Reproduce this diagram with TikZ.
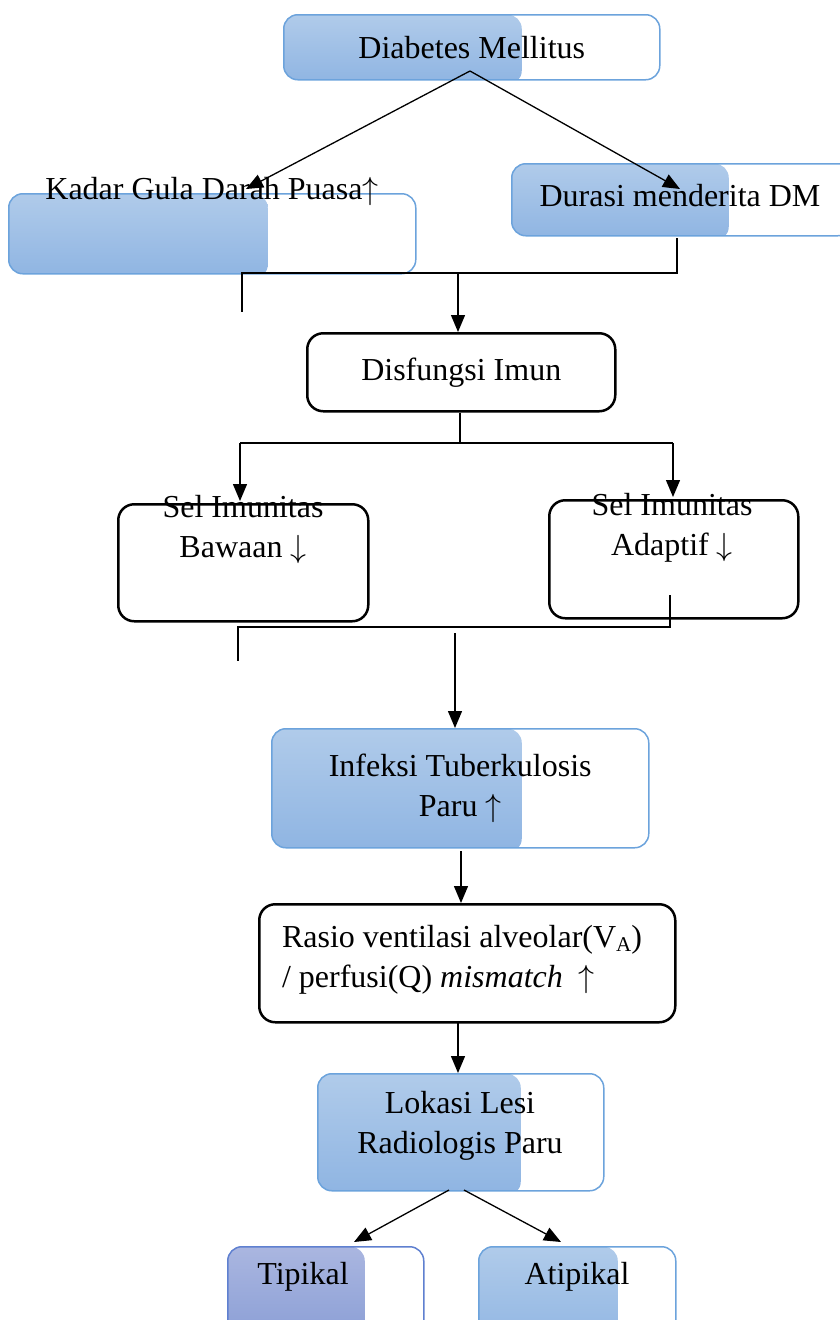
\documentclass[tikz,border=0pt]{standalone}
\usepackage{fix-cm}
\usepackage{fontspec}
\setmainfont{Liberation Serif}
\usetikzlibrary{arrows.meta}
\definecolor{gtop}{RGB}{176,203,234}
\definecolor{gbot}{RGB}{142,180,226}
\definecolor{gedge}{RGB}{108,163,220}
\definecolor{ptop}{RGB}{170,182,224}
\definecolor{pbot}{RGB}{134,155,212}
\definecolor{pedge}{RGB}{95,128,208}
\newcommand{\up}{\ensuremath{\uparrow}}
\newcommand{\dn}{\ensuremath{\downarrow}}
\begin{document}
\begin{tikzpicture}[x=1pt,y=-1pt,
  txt/.style={font=\fontsize{32}{40}\selectfont, inner sep=0pt, align=center},
  bbox/.style={draw=gedge, line width=1.5pt, rounded corners=14pt, inner sep=0pt, anchor=north west,
    font=\fontsize{32}{40}\selectfont, align=center,
    path picture={\shade[top color=gtop,bottom color=gbot] ([yshift=-5pt]path picture bounding box.south west) rectangle ([xshift=#1]path picture bounding box.north west);}},
  pbox/.style={draw=pedge, line width=1.5pt, rounded corners=14pt, inner sep=0pt, anchor=north west,
    path picture={\shade[top color=ptop,bottom color=pbot] ([yshift=-5pt]path picture bounding box.south west) rectangle ([xshift=#1]path picture bounding box.north west);}},
  kbox/.style={draw=black, line width=2.5pt, rounded corners=16pt, inner sep=0pt, anchor=north west, fill=white,
    font=\fontsize{32}{40}\selectfont, align=center},
  arr/.style={line width=1.3pt, -{Triangle[length=17pt,width=14pt]}},
  ln/.style={line width=1.3pt}]
\useasboundingbox (0,0) rectangle (839,1320);

% boxes
\node[bbox=238pt, minimum width=376pt, minimum height=65pt] (dm) at (283,14) {Diabetes Mellitus};
\node[bbox=259pt, minimum width=407pt, minimum height=80pt] (kgd) at (8,193) {};
\node[txt, anchor=center] (kgdt) at (212,191) {Kadar Gula Darah Puasa\up};
\node[bbox=217pt, minimum width=340pt, minimum height=72pt] (dur) at (511,163) {};
\node[txt, anchor=center] (durt) at (680,196) {Durasi menderita DM};
\node[kbox, minimum width=308pt, minimum height=78pt] (imun) at (306,332) {Disfungsi Imun};
\node[kbox, minimum width=250pt, minimum height=117pt] (baw) at (117,503) {};
\node[txt, anchor=center] (bawt) at (243,530) {Sel Imunitas\\Bawaan \dn};
\node[kbox, minimum width=249pt, minimum height=118pt] (adp) at (548,499) {};
\node[txt, anchor=center] (adpt) at (672,528) {Sel Imunitas\\Adaptif \dn};
\node[bbox=250pt, minimum width=377pt, minimum height=119pt] (tb) at (271,728) {Infeksi Tuberkulosis\\Paru \up};
\node[kbox, minimum width=416pt, minimum height=118pt] (ras) at (258,903) {};
\node[txt, anchor=center, align=left] (rast) at (462,960) {Rasio ventilasi alveolar(V\raisebox{-4pt}{\fontsize{21}{21}\selectfont A})\\/ perfusi(Q) \textit{mismatch}\ \ \up};
\node[bbox=203pt, minimum width=286pt, minimum height=117pt] (lok) at (317,1073) {};
\node[txt, anchor=center] (lokt) at (460,1126) {Lokasi Lesi\\Radiologis Paru};
\node[pbox=137pt, minimum width=196pt, minimum height=100pt] (tip) at (227,1246) {};
\node[txt, anchor=center] (tipt) at (303,1277) {Tipikal};
\node[bbox=139pt, minimum width=197pt, minimum height=100pt] (atp) at (478,1246) {};
\node[txt, anchor=center] (atpt) at (577,1277) {Atipikal};

% connectors
\coordinate (dmo) at (470,71);
\coordinate (dmL) at (246,189);
\coordinate (dmR) at (680,189);
\draw[arr] (dmo) -- (dmL);
\draw[arr] (dmo) -- (dmR);

\coordinate (d1) at (677,238);
\coordinate (d2) at (677,273);
\coordinate (k1) at (242,273);
\coordinate (k2) at (242,312);
\coordinate (m1) at (458,273);
\draw[ln] (d1) -- (d2) -- (k1) -- (k2);
\draw[arr] (m1) -- (imun.north -| m1);

\coordinate (i1) at (460,443);
\coordinate (iL) at (240,443);
\coordinate (iR) at (673,443);
\draw[ln] (imun.south -| i1) -- (i1);
\draw[ln] (iL) -- (iR);
\draw[arr] (iL) -- (240,501);
\draw[arr] (iR) -- (673,497);

\coordinate (s1) at (670,595);
\coordinate (s2) at (670,627);
\coordinate (s3) at (238,627);
\coordinate (s4) at (238,661);
\coordinate (s5) at (455,633);
\draw[ln] (s1) -- (s2) -- (s3) -- (s4);
\draw[arr] (s5) -- (tb.north -| s5);

\coordinate (t1) at (461,851);
\draw[arr] (t1) -- (ras.north -| t1);
\coordinate (r1) at (458,1022);
\draw[arr] (r1) -- (lok.north -| r1);

\coordinate (l1) at (449,1190);
\coordinate (l2) at (464,1190);
\draw[arr] (l1) -- (354,1242);
\draw[arr] (l2) -- (561,1242);
\end{tikzpicture}
\end{document}
